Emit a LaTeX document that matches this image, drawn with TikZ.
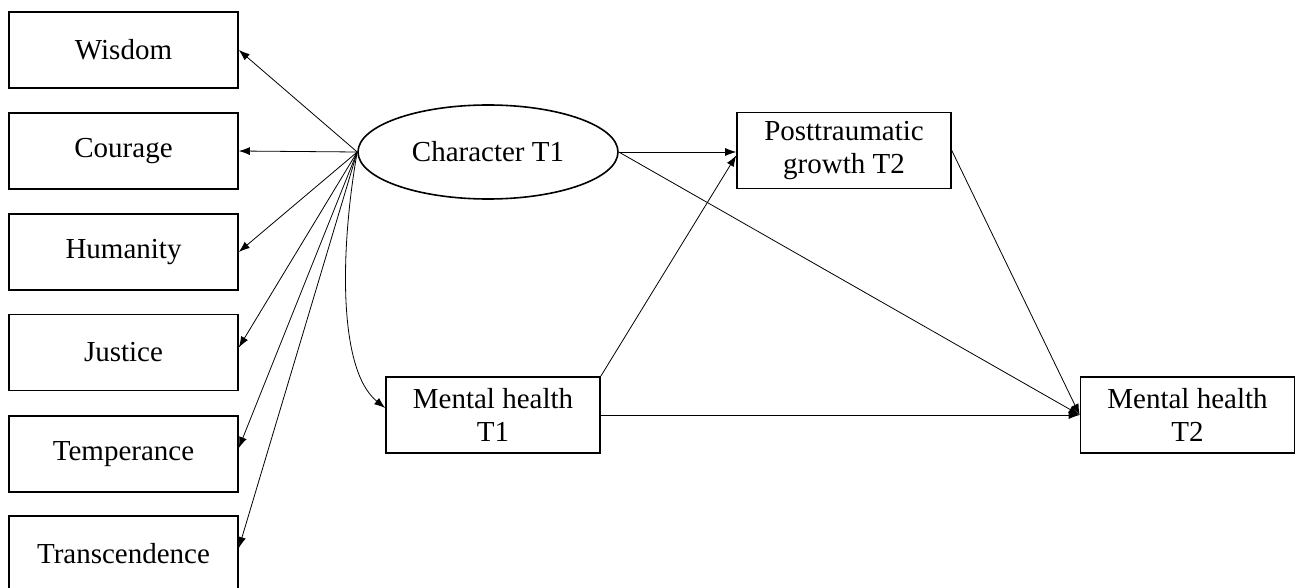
\documentclass[tikz,border=0pt]{standalone}
\usepackage{fontspec}
\setmainfont{Liberation Serif}
\usetikzlibrary{arrows.meta,shapes.geometric}
\begin{document}
\begin{tikzpicture}[x=1pt,y=-1pt,
  box/.style={draw,line width=1.6pt,minimum width=229pt,minimum height=76pt,inner sep=0pt,align=center,font=\fontsize{29}{33}\selectfont},
  sbox/.style={box,minimum width=214pt,minimum height=76pt},
  lat/.style={draw,ellipse,line width=1.6pt,minimum width=260pt,minimum height=94pt,inner sep=0pt,font=\fontsize{29}{33}\selectfont},
  link/.style={line width=0.8pt,-{Latex[length=11pt,width=8pt]}}]
\useasboundingbox (0,0) rectangle (1295,588);
\node[box] (wis) at (123.5,50) {Wisdom};
\node[box] (cou) at (123.5,151) {Courage};
\node[box] (hum) at (123.5,252) {Humanity};
\node[box] (jus) at (123.5,352.5) {Justice};
\node[box] (tem) at (123.5,454) {Temperance};
\node[box] (tra) at (123.5,554) {Transcendence};
\node[lat] (ch) at (488,152) {Character T1};
\node[sbox] (ptg) at (844,150.5) {Posttraumatic\\growth T2};
\node[sbox] (mh1) at (493,415) {Mental health\\T1};
\node[sbox] (mh2) at (1187.5,415) {Mental health\\T2};
% indicators of the latent factor
\draw[link] (ch.west) -- (wis.east);
\draw[link] (ch.west) -- (cou.east);
\draw[link] (ch.west) -- (hum.east);
\draw[link] (ch.west) -- ([yshift=5pt]jus.east);
\draw[link] (ch.west) -- ([yshift=6pt]tem.east);
\draw[link] (ch.west) -- ([yshift=6pt]tra.east);
\draw[link] (ch.west) .. controls (340,250) and (338,370) .. ([yshift=7pt]mh1.west);
% structural paths
\draw[link] (ch.east) -- ([yshift=-1.5pt]ptg.west);
\draw[link] (mh1.north east) -- ([yshift=-5pt]ptg.west);
\draw[link] (ch.east) -- (mh2.west);
\draw[link] (ptg.east) -- (mh2.west);
\draw[link] (mh1.east) -- (mh2.west);
\end{tikzpicture}
\end{document}
